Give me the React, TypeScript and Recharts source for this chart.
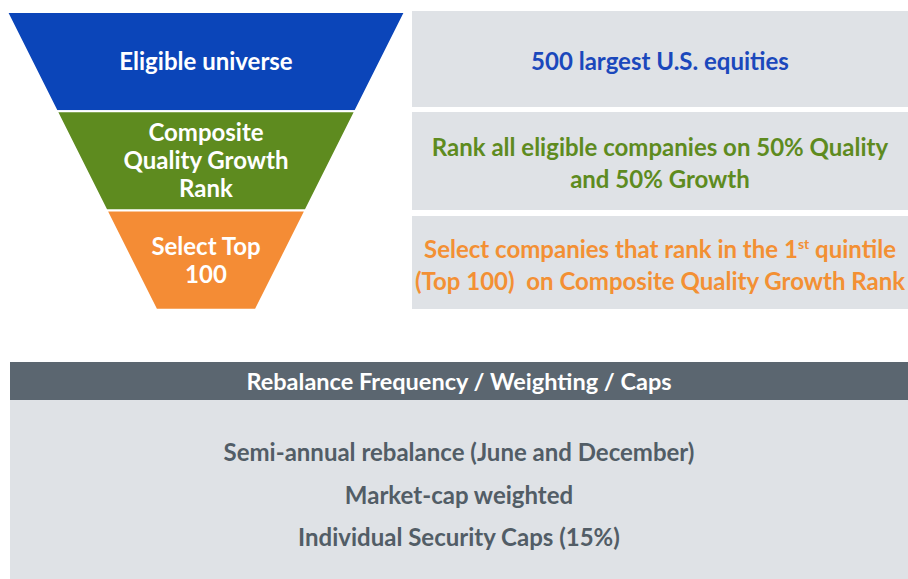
import { FunnelChart, Funnel, Cell, LabelList } from 'recharts';

// funnel stages (top to bottom); the last row only sets the bottom width of "Select Top 100"
const stageLabels = ['Eligible universe', 'Composite\nQuality Growth\nRank', 'Select Top\n100', ''];
const stageWidths = [400, 300, 200, 100];
const stageColors = ['#0b45b9', '#5e8b1f', '#f48c35', 'transparent'];

const noteColors = ['#1b48bc', '#5e8b1f', '#f39034'];

const rebalanceTitle = 'Rebalance Frequency / Weighting / Caps';
const rebalanceLines = [
  'Semi-annual rebalance (June and December)',
  'Market-cap weighted',
  'Individual Security Caps (15%)',
];

const funnelData = stageLabels.map((name, i) => ({ name, value: stageWidths[i] }));

const FONT = 'Lato, "Open Sans", sans-serif';

function StageLabel(props: any) {
  const { x, y, width, height, value, viewBox } = props;
  if (!value) return null;
  const vb = viewBox ?? { x, y, width, height };
  const lines = String(value).split('\n');
  const cx = vb.x + vb.width / 2;
  const cy = vb.y + vb.height / 2;
  const lh = 28;
  const y0 = cy - ((lines.length - 1) * lh) / 2;
  return (
    <text textAnchor="middle" fill="#fff" fontSize={24} fontWeight={700} fontFamily={FONT}>
      {lines.map((l, i) => (
        <tspan key={i} x={cx} y={y0 + i * lh} dy="0.35em">
          {l}
        </tspan>
      ))}
    </text>
  );
}

const noteBox = (top: number, height: number, color: string, children: any) => (
  <div
    style={{
      position: 'absolute',
      left: 412,
      top,
      width: 496,
      height,
      boxSizing: 'border-box',
      paddingTop: 4,
      background: '#dfe2e6',
      color,
      fontFamily: FONT,
      fontWeight: 700,
      fontSize: 24,
      lineHeight: '32px',
      display: 'flex',
      alignItems: 'center',
      justifyContent: 'center',
      textAlign: 'center',
      whiteSpace: 'nowrap',
    }}
  >
    <div>{children}</div>
  </div>
);

export default function App() {
  return (
    <div
      style={{
        position: 'absolute',
        left: 0,
        top: 0,
        width: 908,
        height: 579,
        background: '#fff',
        overflow: 'hidden',
      }}
    >
      {noteBox(11, 96, noteColors[0], '500 largest U.S. equities')}
      {noteBox(112, 98, noteColors[1], (
        <>
          Rank all eligible companies on 50% Quality
          <br />
          and 50% Growth
        </>
      ))}
      {noteBox(216, 93, noteColors[2], (
        <>
          Select companies that rank in the 1<sup style={{ fontSize: 14, lineHeight: 0 }}>st</sup> quintile
          <br />
          (Top 100)&nbsp; on Composite Quality Growth Rank
        </>
      ))}

      <div style={{ position: 'absolute', left: 7, top: 12 }}>
        <FunnelChart width={398} height={397} margin={{ top: 0, right: 0, bottom: 0, left: 0 }}>
          <Funnel dataKey="value" data={funnelData} isAnimationActive={false} stroke="#fff" strokeWidth={2}>
            {funnelData.map((d, i) => (
              <Cell key={d.name + i} fill={stageColors[i]} stroke={i === 3 ? 'none' : '#fff'} />
            ))}
            <LabelList dataKey="name" content={<StageLabel />} />
          </Funnel>
        </FunnelChart>
      </div>

      <div
        style={{
          position: 'absolute',
          left: 10,
          top: 362,
          width: 898,
          height: 38,
          background: '#5b6670',
          color: '#fff',
          fontFamily: FONT,
          fontWeight: 700,
          fontSize: 23.5,
          lineHeight: '38px',
          textAlign: 'center',
        }}
      >
        {rebalanceTitle}
      </div>
      <div
        style={{
          position: 'absolute',
          left: 10,
          top: 400,
          width: 898,
          height: 179,
          background: '#dfe2e6',
          color: '#525d66',
          fontFamily: FONT,
          fontWeight: 700,
          fontSize: 24,
          textAlign: 'center',
        }}
      >
        {rebalanceLines.map((l, i) => (
          <div key={l} style={{ position: 'absolute', left: 0, right: 0, top: 37 + i * 42.5, lineHeight: '30px' }}>
            {l}
          </div>
        ))}
      </div>
    </div>
  );
}
